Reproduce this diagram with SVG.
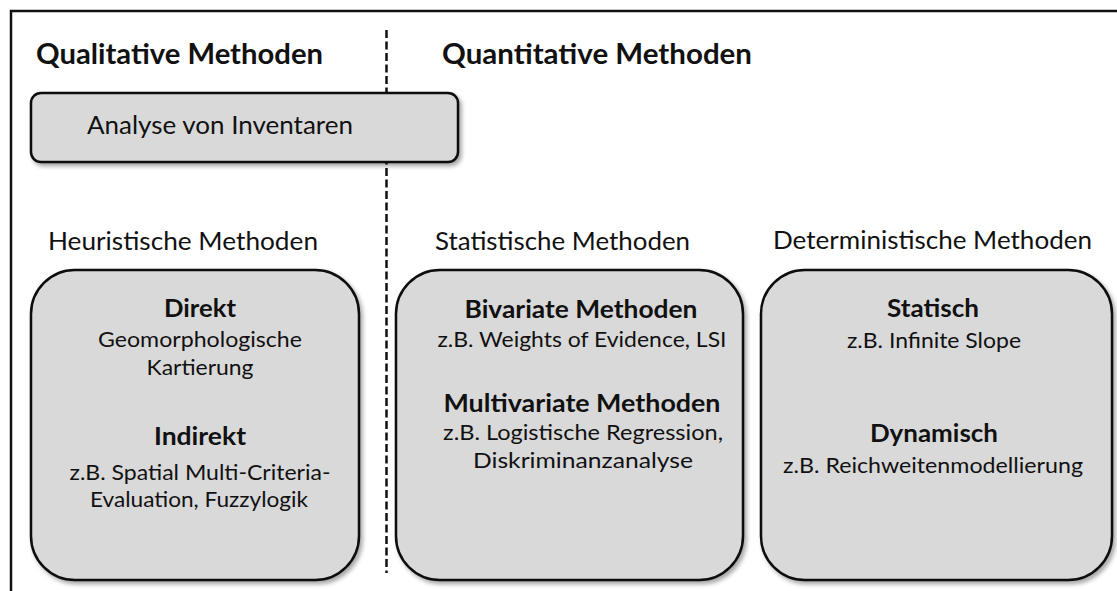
<svg xmlns="http://www.w3.org/2000/svg" width="1117" height="591" viewBox="0 0 1117 591">
<defs>
<filter id="sh" x="-10%" y="-10%" width="130%" height="130%">
<feDropShadow dx="2.5" dy="3" stdDeviation="2" flood-color="#000" flood-opacity="0.35"/>
</filter>
<style>
.box{fill:#d9d9d9;stroke:#111;stroke-width:2.5;filter:url(#sh)}
text{font-family:Lato,"Liberation Sans",sans-serif;fill:#111}
.h{font-size:28px;font-weight:bold}
.t{font-size:25px}
.b{font-size:25px;font-weight:bold;text-anchor:middle}
.c{font-size:22px;text-anchor:middle}
.frame{stroke:#111;stroke-width:2.5;fill:none}
.dash{stroke:#111;stroke-width:2.5;stroke-dasharray:8 3.5;fill:none}
</style>
</defs>
<g id="frame">
<path class="frame" d="M11,591 V11 H1117"/>
</g>
<g id="connectors">
<line class="dash" x1="386.5" y1="30" x2="386.5" y2="573"/>
</g>
<g id="headers">
<text class="h" x="36" y="64" textLength="287" lengthAdjust="spacingAndGlyphs">Qualitative Methoden</text>
<text class="h" x="442" y="64" textLength="310" lengthAdjust="spacingAndGlyphs">Quantitative Methoden</text>
<text class="t" x="48" y="250" textLength="270" lengthAdjust="spacingAndGlyphs">Heuristische Methoden</text>
<text class="t" x="435" y="250" textLength="255" lengthAdjust="spacingAndGlyphs">Statistische Methoden</text>
<text class="t" x="773" y="249" textLength="319" lengthAdjust="spacingAndGlyphs">Deterministische Methoden</text>
</g>
<g id="inventare">
<rect class="box" x="31" y="93" width="427" height="69" rx="10"/>
<text class="t" x="87" y="134" textLength="266" lengthAdjust="spacingAndGlyphs">Analyse von Inventaren</text>
</g>
<g id="heuristisch">
<rect class="box" x="31" y="270" width="328" height="310" rx="44"/>
<text class="b" x="200" y="317" textLength="72" lengthAdjust="spacingAndGlyphs">Direkt</text>
<text class="c" x="200" y="347" textLength="204" lengthAdjust="spacingAndGlyphs">Geomorphologische</text>
<text class="c" x="200" y="375" textLength="107" lengthAdjust="spacingAndGlyphs">Kartierung</text>
<text class="b" x="200" y="445" textLength="92" lengthAdjust="spacingAndGlyphs">Indirekt</text>
<text class="c" x="200" y="480" textLength="261" lengthAdjust="spacingAndGlyphs">z.B. Spatial Multi-Criteria-</text>
<text class="c" x="199" y="507" textLength="218" lengthAdjust="spacingAndGlyphs">Evaluation, Fuzzylogik</text>
</g>
<g id="statistisch">
<rect class="box" x="396" y="270" width="347" height="310" rx="44"/>
<text class="b" x="581" y="318" textLength="233" lengthAdjust="spacingAndGlyphs">Bivariate Methoden</text>
<text class="c" x="582" y="347" textLength="289" lengthAdjust="spacingAndGlyphs">z.B. Weights of Evidence, LSI</text>
<text class="b" x="582" y="412" textLength="277" lengthAdjust="spacingAndGlyphs">Multivariate Methoden</text>
<text class="c" x="583" y="440" textLength="280" lengthAdjust="spacingAndGlyphs">z.B. Logistische Regression,</text>
<text class="c" x="583" y="468" textLength="220" lengthAdjust="spacingAndGlyphs">Diskriminanzanalyse</text>
</g>
<g id="deterministisch">
<rect class="box" x="761" y="270" width="351" height="310" rx="44"/>
<text class="b" x="933" y="317" textLength="92" lengthAdjust="spacingAndGlyphs">Statisch</text>
<text class="c" x="934" y="348" textLength="174" lengthAdjust="spacingAndGlyphs">z.B. Infinite Slope</text>
<text class="b" x="934" y="442" textLength="128" lengthAdjust="spacingAndGlyphs">Dynamisch</text>
<text class="c" x="933" y="473" textLength="300" lengthAdjust="spacingAndGlyphs">z.B. Reichweitenmodellierung</text>
</g>
</svg>
